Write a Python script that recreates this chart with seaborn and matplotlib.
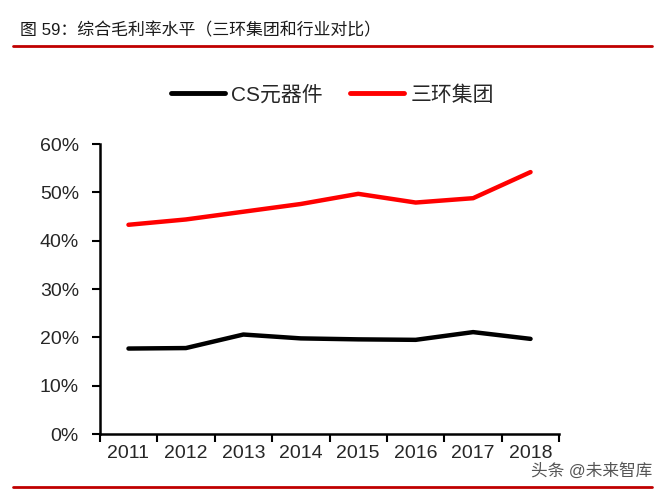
import numpy as np
import pandas as pd
import matplotlib
matplotlib.use("Agg")
import matplotlib.pyplot as plt
import seaborn as sns
from matplotlib.lines import Line2D
from matplotlib.ticker import FixedLocator, PercentFormatter

# data
years = ["2011", "2012", "2013", "2014", "2015", "2016", "2017", "2018"]
cs_components = [17.7, 17.8, 20.6, 19.8, 19.6, 19.5, 21.1, 19.7]
sanhuan = [43.3, 44.4, 46.0, 47.6, 49.7, 47.9, 48.8, 54.2]
series_names = ["CS元器件", "三环集团"]
series_colors = ["#000000", "#ff0000"]

sns.set_style("white")
plt.rcParams["font.family"] = ["Liberation Sans", "Noto Sans CJK SC", "DejaVu Sans"]

df = pd.DataFrame({
    "year": years * 2,
    "value": cs_components + sanhuan,
    "series": [series_names[0]] * len(years) + [series_names[1]] * len(years),
})

fig = plt.figure(figsize=(6.65, 4.95), dpi=100)
ax = fig.add_axes([0.150, 0.123, 0.691, 0.586])

sns.lineplot(data=df, x="year", y="value", hue="series", palette=series_colors,
             linewidth=3.2, ax=ax, legend=False, solid_capstyle="round")

ax.set_ylim(0, 60)
ax.set_xlim(-0.5, len(years) - 0.5)
ax.set_yticks(np.arange(0, 61, 10))
ax.yaxis.set_major_formatter(PercentFormatter(decimals=0))
ax.xaxis.set_minor_locator(FixedLocator(np.arange(-0.5, len(years), 1)))
ax.tick_params(axis="x", which="major", length=0, labelsize=14, pad=8)
ax.tick_params(axis="x", which="minor", length=6, width=1.5, color="black", bottom=True)
ax.tick_params(axis="y", length=6, width=1.5, color="black", labelsize=14, pad=9, left=True)
ax.set_xlabel("")
ax.set_ylabel("")
for side in ["top", "right"]:
    ax.spines[side].set_visible(False)
for side in ["left", "bottom"]:
    ax.spines[side].set_color("black")
    ax.spines[side].set_linewidth(1.8)

handles = [Line2D([], [], color=c, linewidth=3.5) for c in series_colors]
fig.legend(handles, series_names, loc="center", bbox_to_anchor=(0.5, 0.808),
           ncol=2, frameon=False, fontsize=15, handlelength=2.6,
           handletextpad=0.3, columnspacing=1.3)

# title block
fig.text(0.030, 0.938, "图 59：综合毛利率水平（三环集团和行业对比）",
         fontsize=12.2, color="#1a1a1a", va="center", ha="left")
fig.add_artist(Line2D([0.020, 0.980], [0.907, 0.907], color="#c00000", linewidth=2))
fig.add_artist(Line2D([0.020, 0.980], [0.016, 0.016], color="#c00000", linewidth=2))
fig.text(0.981, 0.050, "头条 @未来智库", fontsize=12, color="#555555",
         ha="right", va="center")

fig.savefig("out.png", dpi=100)
